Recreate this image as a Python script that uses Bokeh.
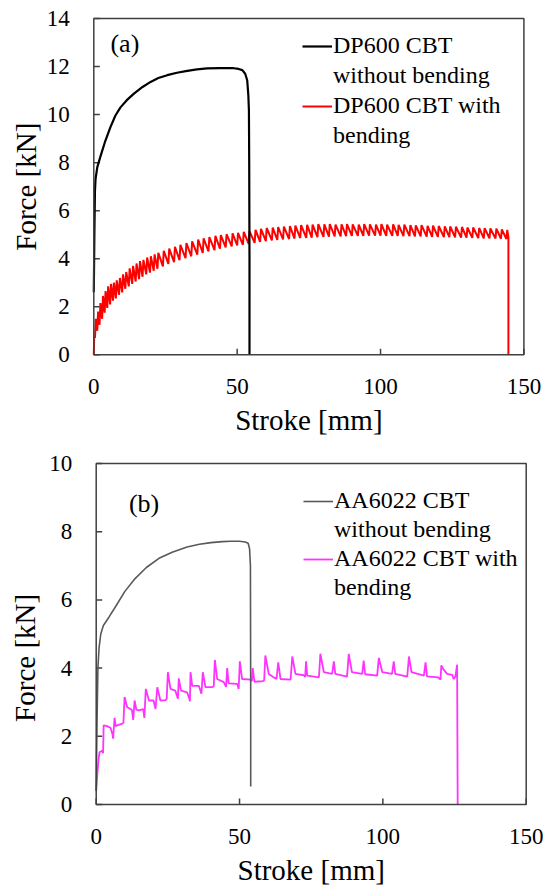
import math
from bokeh.plotting import figure
from bokeh.layouts import column
from bokeh.models import Range1d, Legend, LegendItem, Label, BoxAnnotation
from bokeh.embed import file_html
from bokeh.resources import INLINE

FONT = "Liberation Serif"

# ---------------- Panel (a): DP600 ----------------
dp_nobend_stroke = [0.0, 0.2, 0.4, 0.6, 1.2, 2.3, 4.0, 5.8, 7.5, 9.3, 11.5, 14.0, 17.0, 19.8,
                    22.5, 25.6, 29.0, 32.6, 36.0, 39.5, 44.0, 48.8, 50.5, 51.8, 52.8, 53.5,
                    53.9, 54.1, 54.2, 54.3, 54.3]
dp_nobend_force = [2.6, 5.0, 6.8, 7.3, 7.8, 8.25, 8.9, 9.48, 9.95, 10.3, 10.6, 10.87, 11.15, 11.36,
                   11.52, 11.64, 11.74, 11.82, 11.88, 11.92, 11.93, 11.93, 11.9, 11.85, 11.7, 11.43,
                   10.8, 10.18, 8.0, 4.0, 0.0]

# sawtooth of the bending test: stroke of each tooth, its low and high force
dp_bend_tooth_stroke = [0.4, 1.2, 2.0, 2.9, 3.8, 4.7, 5.7, 6.7, 7.7, 8.8, 9.9, 11.0, 12.2, 13.4,
                        14.6, 15.8, 17.0, 18.3, 19.6, 20.9, 22.2, 24.1, 26.0, 28.0, 29.9, 32.0,
                        34.0, 36.1, 38.0, 40.0, 42.1, 44.0, 46.0, 48.1, 50.0, 52.0, 54.0, 56.1,
                        58.0, 60.0, 62.1, 64.0, 66.0, 68.1, 70.0, 72.0, 74.1, 76.0, 78.0, 80.1,
                        82.0, 84.0, 86.1, 88.0, 90.0, 92.1, 94.0, 96.0, 98.1, 100.0, 102.0, 104.1,
                        106.0, 108.0, 110.1, 112.0, 114.0, 116.1, 118.0, 120.0, 122.1, 124.0,
                        126.0, 128.1, 130.0, 132.0, 134.1, 136.0, 138.0, 140.1, 142.0, 143.9]
dp_bend_tooth_low = [0.7, 1.0, 1.25, 1.5, 1.75, 1.95, 2.1, 2.25, 2.35, 2.5, 2.6, 2.75, 2.85, 2.95,
                     3.05, 3.15, 3.25, 3.35, 3.42, 3.5, 3.58, 3.68, 3.78, 3.86, 3.94, 4.02,
                     4.1, 4.17, 4.24, 4.3, 4.36, 4.42, 4.47, 4.51, 4.55, 4.58, 4.62, 4.66,
                     4.7, 4.73, 4.76, 4.78, 4.8, 4.82, 4.84, 4.86, 4.87, 4.88, 4.9, 4.91,
                     4.92, 4.93, 4.93, 4.94, 4.95, 4.95, 4.95, 4.96, 4.96, 4.96, 4.95, 4.95,
                     4.95, 4.94, 4.94, 4.93, 4.93, 4.92, 4.91, 4.91, 4.9, 4.9,
                     4.89, 4.88, 4.88, 4.87, 4.86, 4.85, 4.85, 4.84, 4.83, 4.82]
dp_bend_tooth_high = [1.5, 1.8, 2.15, 2.45, 2.65, 2.85, 2.95, 3.0, 3.1, 3.2, 3.35, 3.45, 3.6, 3.7,
                      3.8, 3.9, 3.95, 4.05, 4.1, 4.18, 4.25, 4.33, 4.42, 4.5, 4.58, 4.65,
                      4.72, 4.8, 4.85, 4.9, 4.95, 4.98, 5.02, 5.06, 5.08, 5.12, 5.15, 5.2,
                      5.24, 5.28, 5.3, 5.32, 5.34, 5.36, 5.38, 5.4, 5.41, 5.42, 5.44, 5.43,
                      5.44, 5.42, 5.43, 5.44, 5.43, 5.42, 5.44, 5.43, 5.42, 5.44, 5.42, 5.43,
                      5.41, 5.42, 5.4, 5.39, 5.4, 5.37, 5.38, 5.36, 5.35, 5.34,
                      5.33, 5.32, 5.3, 5.3, 5.28, 5.27, 5.26, 5.25, 5.22, 5.2]
dp_bend_start_stroke = [0.0, 0.15]
dp_bend_start_force = [0.0, 0.8]
dp_bend_end_stroke = [144.6, 144.6]
dp_bend_end_force = [4.9, 0.0]

# ---------------- Panel (b): AA6022 ----------------
aa_nobend_stroke = [0.0, 0.3, 0.6, 1.0, 1.6, 2.5, 4.5, 7.1, 10.0, 13.3, 17.5, 21.9, 26.5, 31.7,
                    36.0, 40.0, 44.0, 47.0, 50.0, 52.0, 53.0, 53.5, 53.8, 53.9, 53.9]
aa_nobend_force = [0.4, 2.5, 4.0, 4.6, 5.0, 5.25, 5.5, 5.85, 6.25, 6.6, 6.95, 7.22, 7.4, 7.55,
                   7.63, 7.68, 7.71, 7.72, 7.72, 7.7, 7.66, 7.5, 7.0, 3.0, 0.53]

aa_bend_stroke = [0.0, 0.4, 0.8, 1.15, 2.2, 2.4, 2.6, 3.8, 5.0, 5.7, 5.9, 6.4, 6.8, 7.3, 9.1, 9.5,
                  9.9, 10.8, 12.0, 12.5, 12.9, 13.4, 14.0, 14.9, 16.4, 16.8, 17.3, 18.4, 20.0,
                  20.7, 21.3, 22.4, 24.2, 24.6, 25.0, 25.9, 27.6, 28.5, 28.8, 29.6, 31.7, 32.5,
                  32.7, 32.9, 33.5, 35.8, 36.7, 37.2, 38.1, 40.4, 41.0, 41.4, 42.2, 44.5, 45.3,
                  45.7, 46.2, 49.2, 49.7, 50.1, 50.9, 53.8, 54.3, 54.6, 55.2, 58.2, 58.6, 59.0,
                  60.2, 61.9, 62.9, 63.5, 64.3, 67.8, 68.4, 69.5, 72.4, 72.9, 73.2, 73.6, 77.7,
                  78.2, 79.4, 82.3, 82.9, 83.4, 87.5, 88.1, 89.2, 92.8, 93.3, 93.8, 98.0, 98.6,
                  99.8, 103.2, 103.8, 104.3, 108.5, 109.1, 110.0, 114.3, 114.9, 115.4, 119.3,
                  120.1, 120.4, 121.0, 122.4, 124.2, 124.7, 125.3, 125.9, 126.1]
aa_bend_force = [0.40, 0.9, 1.3, 1.53, 1.58, 1.50, 2.32, 2.30, 2.25, 2.05, 1.93, 2.54, 2.30, 2.32,
                 2.37, 2.40, 3.15, 2.85, 2.80, 2.76, 2.48, 3.05, 2.78, 2.76, 2.80, 2.54, 3.39,
                 3.05, 3.05, 2.80, 3.44, 3.05, 3.06, 3.10, 3.88, 3.39, 3.34, 3.10, 3.70, 3.34,
                 3.29, 3.10, 3.03, 3.88, 3.48, 3.48, 3.25, 3.88, 3.44, 3.44, 3.46, 4.24, 3.68,
                 3.59, 3.45, 4.00, 3.55, 3.54, 3.39, 4.20, 3.68, 3.66, 3.62, 4.00, 3.60, 3.62,
                 3.65, 4.37, 3.83, 3.73, 3.68, 4.17, 3.68, 3.66, 4.34, 3.83, 3.79, 3.74, 4.20,
                 3.78, 3.73, 4.42, 3.88, 3.83, 4.20, 3.83, 3.75, 4.42, 3.88, 3.83, 4.22, 3.82,
                 3.78, 4.30, 3.88, 3.83, 4.20, 3.83, 3.75, 4.34, 3.88, 3.78, 4.17, 3.76, 3.73,
                 3.66, 4.08, 3.98, 3.83, 3.80, 3.68, 3.75, 4.10, 0.0]

x_ticks = [0, 50, 100, 150]
y_ticks_a = [0, 2, 4, 6, 8, 10, 12, 14]
y_ticks_b = [0, 2, 4, 6, 8, 10]
x_title = "Stroke [mm]"
y_title = "Force [kN]"

# build the red sawtooth polyline from the tooth table
dp_bend_stroke = list(dp_bend_start_stroke)
dp_bend_force = list(dp_bend_start_force)
for s, lo, hi in zip(dp_bend_tooth_stroke, dp_bend_tooth_low, dp_bend_tooth_high):
    dp_bend_stroke += [s, s + 0.3]
    dp_bend_force += [lo, hi]
dp_bend_stroke += dp_bend_end_stroke
dp_bend_force += dp_bend_end_force

FRAME_COL = "#404040"
FIG_W = 550


def make_panel(height, box_left, box_right, box_top, box_bottom, yticks,
               xtitle_off, ytitle_off, ytitle_mid):
    """box_* : pixel position of the axes box inside the figure (the frame covers the
    whole figure, the ranges are widened so that the data box lands on those pixels)."""
    xmax = x_ticks[-1]
    ymax = yticks[-1]
    sx = (box_right - box_left) / xmax
    sy = (box_bottom - box_top) / ymax
    xr = Range1d(-box_left / sx, xmax + (FIG_W - box_right) / sx)
    yr = Range1d(-(height - box_bottom) / sy, ymax + box_top / sy)
    p = figure(width=FIG_W, height=height, min_border=0, x_range=xr, y_range=yr,
               x_axis_location=None, y_axis_location=None,
               output_backend="svg", toolbar_location=None)
    p.outline_line_color = None
    p.background_fill_color = "white"
    p.border_fill_color = "white"
    for g in p.grid:
        g.visible = False
    # axes box
    p.add_layout(BoxAnnotation(left=0, right=xmax, bottom=0, top=ymax, fill_alpha=0,
                               line_color=FRAME_COL, line_width=1.5, line_alpha=1.0))
    # inner ticks
    p.ray(x=x_ticks, y=[0] * len(x_ticks), length=6, length_units="screen",
          angle=math.pi / 2, line_color=FRAME_COL, line_width=1.5)
    p.ray(x=[0] * len(yticks), y=yticks, length=6, length_units="screen",
          angle=0, line_color=FRAME_COL, line_width=1.5)
    # tick labels
    for t in x_ticks:
        p.add_layout(Label(x=t, y=0, y_offset=-24, text=str(t), text_font=FONT,
                           text_font_size="23px", text_align="center", text_baseline="top",
                           text_color="black"))
    for t in yticks:
        p.add_layout(Label(x=0, y=t, x_offset=-24, text=str(t), text_font=FONT,
                           text_font_size="23px", text_align="right", text_baseline="middle",
                           text_color="black"))
    # axis titles
    p.add_layout(Label(x=xmax / 2, y=0, y_offset=xtitle_off, text=x_title, text_font=FONT,
                       text_font_size="29px", text_align="center", text_baseline="top",
                       text_color="black"))
    p.add_layout(Label(x=0, y=ytitle_mid, x_offset=ytitle_off, text=y_title, text_font=FONT,
                       text_font_size="29px", text_align="center", text_baseline="middle",
                       angle=math.pi / 2, text_color="black"))
    return p


def make_legend(items, loc, spacing):
    lg = Legend(items=items, location=loc)
    lg.border_line_color = None
    lg.background_fill_alpha = 0
    lg.padding = 0
    lg.margin = 0
    lg.spacing = spacing
    lg.glyph_width = 30
    lg.glyph_height = 20
    lg.label_standoff = 1
    lg.label_height = 20
    lg.label_text_font = FONT
    lg.label_text_font_size = "24px"
    lg.label_text_color = "black"
    lg.inactive_fill_alpha = 0
    return lg


# ---- figure a (page rows 0..448) ----
pa = make_panel(448, 93.3, 523.4, 18, 354.3, y_ticks_a, -49, -68, 7.0)
r_red = pa.line(dp_bend_stroke, dp_bend_force, line_color="#FF0000", line_width=2.0)
r_blk = pa.line(dp_nobend_stroke, dp_nobend_force, line_color="#000000", line_width=2.2)
d1 = pa.line(dp_nobend_stroke, dp_nobend_force, line_alpha=0)
d2 = pa.line(dp_nobend_stroke, dp_nobend_force, line_alpha=0)
pa.add_layout(make_legend([
    LegendItem(label="DP600 CBT", renderers=[r_blk]),
    LegendItem(label="without bending", renderers=[d1]),
    LegendItem(label="DP600 CBT with", renderers=[r_red]),
    LegendItem(label="bending", renderers=[d2]),
], (302, 299), 3))
pa.add_layout(Label(x=5.8, y=12.95, text="(a)", text_font=FONT, text_font_size="26px",
                    text_baseline="middle", text_align="left", text_color="black"))

# ---- figure b (page rows 448..894) ----
pb = make_panel(446, 95.7, 525.7, 15, 356, y_ticks_b, -49, -71, 4.3)
r_mag = pb.line(aa_bend_stroke, aa_bend_force, line_color="#FF33FF", line_width=1.8)
r_gry = pb.line(aa_nobend_stroke, aa_nobend_force, line_color="#595959", line_width=1.6)
e1 = pb.line(aa_nobend_stroke, aa_nobend_force, line_alpha=0)
e2 = pb.line(aa_nobend_stroke, aa_nobend_force, line_alpha=0)
pb.add_layout(make_legend([
    LegendItem(label="AA6022 CBT", renderers=[r_gry]),
    LegendItem(label="without bending", renderers=[e1]),
    LegendItem(label="AA6022 CBT with", renderers=[r_mag]),
    LegendItem(label="bending", renderers=[e2]),
], (303, 293), 2))
pb.add_layout(Label(x=11.4, y=8.83, text="(b)", text_font=FONT, text_font_size="26px",
                    text_baseline="middle", text_align="left", text_color="black"))

layout = column(pa, pb, spacing=0)
open("out.html", "w").write(file_html(layout, INLINE))
